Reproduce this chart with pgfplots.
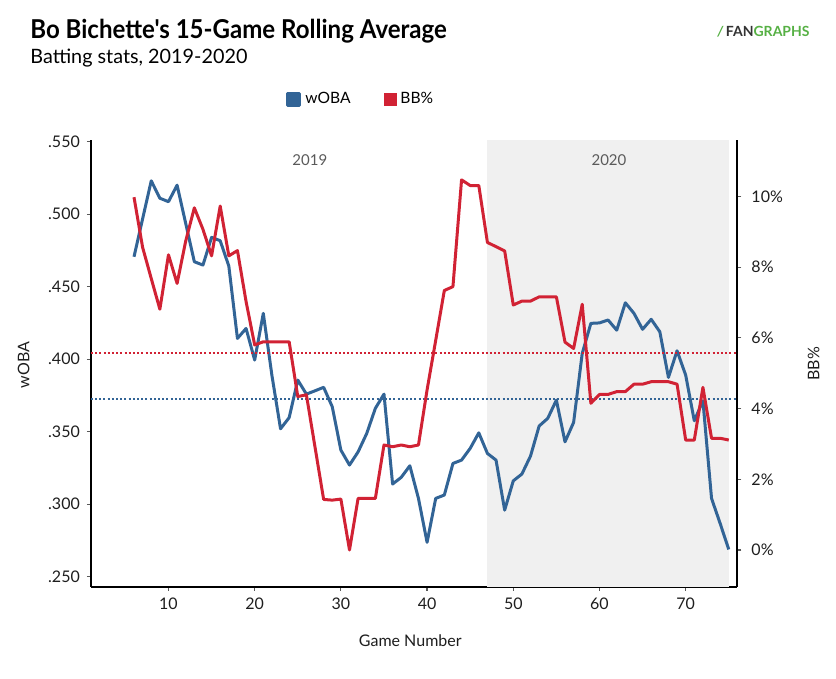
\documentclass[border=0pt]{standalone}
\usepackage{pgfplots}
\pgfplotsset{compat=1.18}
\usepackage{pgfplotstable}
\usepackage{fontspec}
\setmainfont{Lato}
\newfontfamily\titlefont[FakeStretch=0.925]{Lato Bold}
\definecolor{fgblue}{RGB}{50,100,150}
\definecolor{fgred}{RGB}{209,34,52}
\definecolor{bggray}{RGB}{240,240,240}
\definecolor{fggreen}{RGB}{86,176,68}
\definecolor{txt}{RGB}{30,30,30}
\definecolor{yeartxt}{RGB}{90,90,90}

\pgfplotstableread{
g w
6 .4706
7 .4968
8 .5230
9 .5110
10 .5086
11 .5200
12 .4936
13 .4672
14 .4649
15 .4840
16 .4817
17 .4642
18 .4143
19 .4212
20 .3994
21 .4316
22 .3888
23 .3520
24 .3597
25 .3856
26 .3759
27 .3782
28 .3806
29 .3672
30 .3373
31 .3270
32 .3361
33 .3488
34 .3661
35 .3759
36 .3139
37 .3185
38 .3265
39 .3040
40 .2737
41 .3040
42 .3063
43 .3281
44 .3304
45 .3385
46 .3492
47 .3350
48 .3304
49 .2959
50 .3161
51 .3208
52 .3332
53 .3539
54 .3592
55 .3718
56 .3430
57 .3564
58 .4040
59 .4247
60 .4250
61 .4270
62 .4200
63 .4389
64 .4316
65 .4206
66 .4275
67 .4189
68 .3874
69 .4058
70 .3890
71 .3575
72 .3713
73 .3040
74 .2867
75 .2688
}\woba

\pgfplotstableread{
g b
6 9.98
7 8.56
8 7.68
9 6.81
10 8.35
11 7.54
12 8.74
13 9.68
14 9.07
15 8.32
16 9.73
17 8.32
18 8.47
19 7.03
20 5.80
21 5.89
22 5.89
23 5.89
24 5.89
25 4.34
26 4.39
27 2.91
28 1.43
29 1.41
30 1.44
31 0.00
32 1.46
33 1.46
34 1.46
35 2.97
36 2.92
37 2.97
38 2.92
39 2.97
40 4.53
41 5.93
42 7.34
43 7.45
44 10.47
45 10.31
46 10.31
47 8.70
48 8.58
49 8.46
50 6.93
51 7.04
52 7.04
53 7.16
54 7.16
55 7.16
56 5.88
57 5.70
58 6.95
59 4.15
60 4.40
61 4.40
62 4.48
63 4.48
64 4.69
65 4.69
66 4.76
67 4.76
68 4.76
69 4.69
70 3.11
71 3.11
72 4.60
73 3.16
74 3.16
75 3.11
}\bb

\pgfplotsset{
  base/.style={
    at={(45.45pt,46pt)}, anchor=south west, scale only axis,
    width=323.25pt, height=223.25pt, xmin=1, xmax=76,
    axis line style={-, line width=1pt, black},
    tick align=outside, major tick length=2pt,
    tick style={line width=0.6pt, color=black!65},
    ticklabel style={font=\fontsize{8}{9}\selectfont, text=txt},
    label style={font=\fontsize{8}{9}\selectfont, text=txt},
    /pgf/number format/assume math mode=true,
  }
}

\begin{document}
\begin{tikzpicture}[x=1pt,y=1pt]
\useasboundingbox (0,0) rectangle (418,339.5);
\node[anchor=base west, inner sep=0, font=\titlefont\fontsize{13}{14}\selectfont] at (15,320) {Bo Bichette's 15-Game Rolling Average};
\node[anchor=base west, inner sep=0, font=\fontsize{9.9}{11}\selectfont] at (15,307.5) {Batting stats, 2019-2020};
\node[anchor=east, inner sep=0, font=\bfseries\fontsize{7}{8}\selectfont] at (405,323.5) {{\color{fggreen}\textit{/}\,}\textcolor{black!80}{FAN}\textcolor{fggreen}{GRAPHS}};

\begin{axis}[base,
  ymin=0.2429, ymax=0.5508,
  axis x line*=bottom, axis y line*=left,
  xtick={10,20,...,70},
  ytick={0.25,0.3,0.35,0.4,0.45,0.5,0.55},
  yticklabels={.250,.300,.350,.400,.450,.500,.550},
  xlabel={Game Number}, ylabel={wOBA},
  xlabel style={at={(axis description cs:0.494,-0.121)}, anchor=center},
  ylabel style={at={(axis description cs:-0.104,0.497)}, anchor=center},
  legend style={at={(axis description cs:0.3018,1.0929)}, anchor=west, draw=none, fill=none,
    inner sep=0pt, legend columns=2, font=\fontsize{7.8}{9}\selectfont,
    /tikz/every even column/.append style={column sep=14.5pt}},
  legend image code/.code={\fill (0pt,-3pt) rectangle (6pt,3pt);},
]
\addplot[fill=bggray, draw=none, forget plot] coordinates {(47,0.2429) (75,0.2429) (75,0.5508) (47,0.5508)} --cycle;
\addplot[fgblue, line width=1pt, dash pattern=on 1pt off 1.1pt, forget plot] coordinates {(1,0.3728) (76,0.3728)};
\addplot[fgblue, line width=1.5pt, line join=round] table[x=g, y=w] {\woba};
\addlegendentry{wOBA}
\addlegendimage{fgred}
\addlegendentry{BB\%}
\node[font=\fontsize{7.5}{9}\selectfont, text=yeartxt] at (axis cs:26.4,0.5373) {2019};
\node[font=\fontsize{7.5}{9}\selectfont, text=yeartxt] at (axis cs:61.1,0.5373) {2020};
\end{axis}

\begin{axis}[base,
  ymin=-1.047, ymax=11.584,
  axis x line=none, axis y line*=right,
  ytick={0,2,4,6,8,10},
  yticklabels={0\%,2\%,4\%,6\%,8\%,10\%},
  yticklabel style={xshift=1.5pt},
  ylabel={BB\%},
  ylabel style={at={(axis description cs:1.118,0.5)}, anchor=center, rotate=0},
]
\addplot[fgred, line width=1pt, dash pattern=on 1pt off 1.1pt] coordinates {(1,5.58) (76,5.58)};
\addplot[fgred, line width=1.5pt, line join=round] table[x=g, y=b] {\bb};
\end{axis}
\end{tikzpicture}
\end{document}
